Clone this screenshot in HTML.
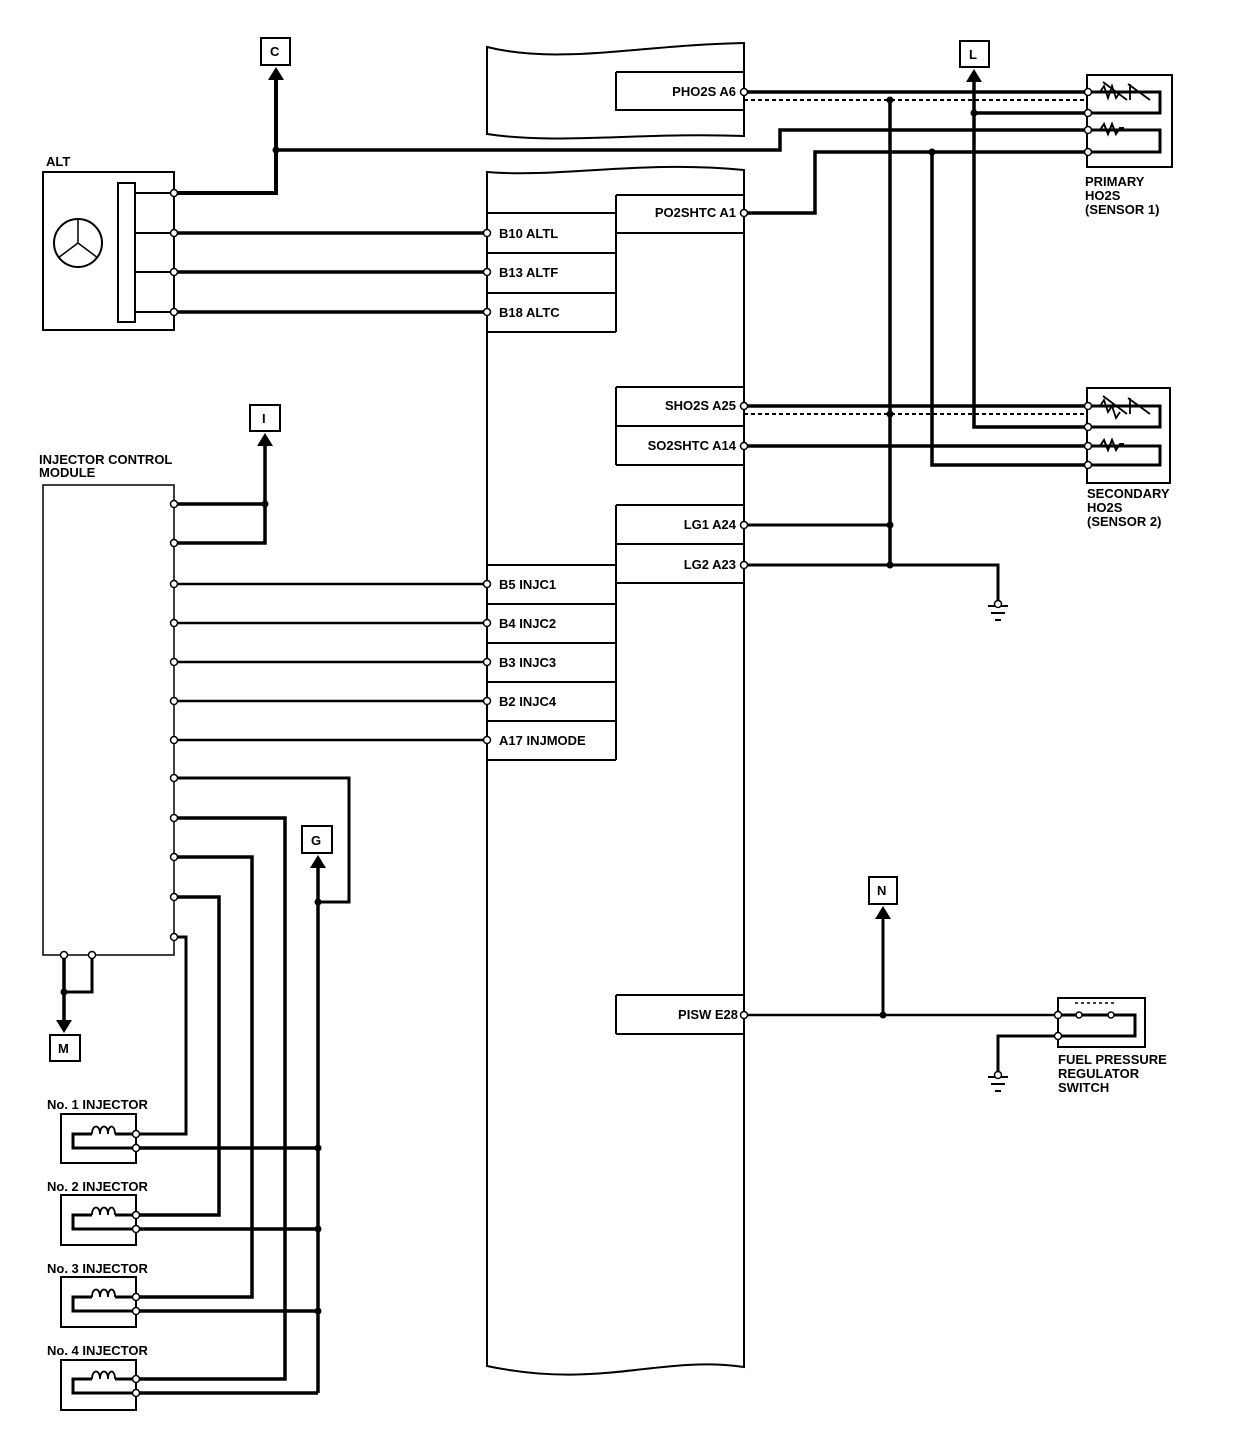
<!DOCTYPE html>
<html><head><meta charset="utf-8"><style>
html,body{margin:0;padding:0;background:#fff}
svg{display:block}
text{font-family:"Liberation Sans",Arial,sans-serif;font-weight:bold;font-size:13px;fill:#000}
</style></head><body>
<svg width="1248" height="1456" viewBox="0 0 1248 1456" xmlns="http://www.w3.org/2000/svg">
<g fill="none" stroke="#000">
<!-- ECM blocks -->
<path d="M487,47 C560,65 640,45 744,43 L744,136 C640,132 560,145 487,134 Z" stroke-width="2"/>
<path d="M487,172 C560,178 640,160 744,170 L744,1367 C660,1355 600,1390 487,1366 Z" stroke-width="2"/>
<!-- ECM inner boxes -->
<path d="M616,72 H744 M616,72 V110 H744" stroke-width="2"/>
<path d="M616,195 H744 M616,233 H744 M487,213 H616 M616,195 V332 M487,253 H616 M487,293 H616 M487,332 H616" stroke-width="2"/>
<path d="M616,387 H744 M616,426 H744 M616,465 H744 M616,387 V465" stroke-width="2"/>
<path d="M616,505 H744 M616,544 H744 M616,583 H744 M616,505 V760 M487,565 H616 M487,604 H616 M487,643 H616 M487,682 H616 M487,721 H616 M487,760 H616" stroke-width="2"/>
<path d="M616,995 H744 M616,1034 H744 M616,995 V1034" stroke-width="2"/>

<!-- ALT -->
<rect x="43" y="172" width="131" height="158" stroke-width="2"/>
<rect x="118" y="183" width="17" height="139" stroke-width="2"/>
<circle cx="78" cy="243" r="24" stroke-width="2"/>
<path d="M78,219 V243 L58,258 M78,243 L98,258" stroke-width="1.5"/>
<path d="M174,172 V330" stroke-width="2"/>
<path d="M135,193 H174 M135,233 H174 M135,272 H174 M135,312 H174" stroke-width="2"/>
<path d="M174,193 H276 V76" stroke-width="4"/>
<path d="M276,150 H780 V130 H1088" stroke-width="3.5"/>
<path d="M174,233 H487 M174,272 H487 M174,312 H487" stroke-width="3.5"/>

<!-- O2 wiring -->
<path d="M744,92 H1088" stroke-width="3.5"/>
<path d="M744,100 H1088" stroke-width="2" stroke-dasharray="4,3"/>
<path d="M744,213 H815 V152 H1088" stroke-width="3.5"/>
<path d="M974,78 V427 H1088 M974,113 H1088" stroke-width="3.5"/>
<path d="M932,152 V465 H1088" stroke-width="3.5"/>
<path d="M890,100 V565" stroke-width="3.5"/>
<path d="M744,406 H1088 M744,446 H1088" stroke-width="3.5"/>
<path d="M744,414 H1088" stroke-width="2" stroke-dasharray="4,3"/>
<path d="M744,525 H890 M744,565 H998 V604" stroke-width="3"/>
<!-- sensor boxes -->
<rect x="1087" y="75" width="85" height="92" stroke-width="2"/>
<rect x="1087" y="388" width="83" height="95" stroke-width="2"/>
<path d="M1088,92 H1160 V113 H1088 M1088,130 H1160 V152 H1088" stroke-width="3"/>
<path d="M1088,406 H1160 V427 H1088 M1088,446 H1160 V465 H1088" stroke-width="3"/>
<path d="M1100,92 l4,-6 l4,12 l4,-12 l4,12 l4,-6 M1103,82 L1127,100 M1130,84 V100 M1128,84 L1150,100" stroke-width="1.8"/>
<path d="M1100,406 l4,-6 l4,12 l4,-6 l4,12 l4,-6 M1103,396 L1127,414 M1130,398 V414 M1128,398 L1150,414" stroke-width="1.8"/>
<path d="M1100,130 l4,-6 l4,10 l4,-10 l4,10 l4,-6 l4,0" stroke-width="2"/>
<path d="M1100,446 l4,-6 l4,10 l4,-10 l4,10 l4,-6 l4,0" stroke-width="2"/>
<!-- grounds -->
<path d="M988,606 H1008 M991,613 H1005 M995,620 H1001" stroke-width="2"/>
<path d="M988,1077 H1008 M991,1084 H1005 M995,1091 H1001" stroke-width="2"/>

<!-- PISW -->
<path d="M744,1015 H1058" stroke-width="2.5"/>
<path d="M883,1015 V912" stroke-width="3"/>
<rect x="1058" y="998" width="87" height="49" stroke-width="2"/>
<path d="M1058,1015 H1135 V1036 H998 V1075" stroke-width="3"/>
<path d="M1075,1003 H1115" stroke-width="1.5" stroke-dasharray="3,3"/>

<!-- ICM -->
<path d="M43,485 H174 V955 H43 Z" stroke-width="1.5"/>
<path d="M174,504 H265 M174,543 H265 V440" stroke-width="3.5"/>
<path d="M174,584 H487 M174,623 H487 M174,662 H487 M174,701 H487 M174,740 H487" stroke-width="2.5"/>
<path d="M174,778 H349 V902 H318" stroke-width="3"/>
<path d="M318,1393 V862" stroke-width="3.5"/>
<path d="M174,818 H285 V1379 H136" stroke-width="3.5"/>
<path d="M174,857 H252 V1297 H136" stroke-width="3.5"/>
<path d="M174,897 H219 V1215 H136" stroke-width="3.5"/>
<path d="M174,937 H186 V1134 H136" stroke-width="3"/>
<path d="M136,1148 H318 M136,1229 H318 M136,1311 H318 M136,1393 H318" stroke-width="3.5"/>
<path d="M64,955 V1022" stroke-width="3.5"/>
<path d="M92,955 V992 H64" stroke-width="3"/>
<!-- injectors -->
<g stroke-width="2">
<rect x="61" y="1114" width="75" height="49"/><rect x="61" y="1195" width="75" height="50"/>
<rect x="61" y="1277" width="75" height="50"/><rect x="61" y="1360" width="75" height="50"/>
</g>
<g stroke-width="3">
<path d="M136,1134 H115 M92,1134 H73 V1148 H136"/>
<path d="M136,1215 H115 M92,1215 H73 V1229 H136"/>
<path d="M136,1297 H115 M92,1297 H73 V1311 H136"/>
<path d="M136,1379 H115 M92,1379 H73 V1393 H136"/>
</g>
<g stroke-width="1.8">
<path d="M92,1134 c0,-10 8,-10 8,0 c0,-10 8,-10 8,0 c0,-10 7,-10 7,0"/>
<path d="M92,1215 c0,-10 8,-10 8,0 c0,-10 8,-10 8,0 c0,-10 7,-10 7,0"/>
<path d="M92,1297 c0,-10 8,-10 8,0 c0,-10 8,-10 8,0 c0,-10 7,-10 7,0"/>
<path d="M92,1379 c0,-10 8,-10 8,0 c0,-10 8,-10 8,0 c0,-10 7,-10 7,0"/>
</g>
<!-- connector boxes -->
<g stroke-width="2">
<rect x="261" y="38" width="29" height="27"/>
<rect x="960" y="41" width="29" height="26"/>
<rect x="250" y="405" width="30" height="26"/>
<rect x="302" y="826" width="30" height="27"/>
<rect x="869" y="877" width="28" height="27"/>
<rect x="50" y="1035" width="30" height="26"/>
</g>
</g>
<!-- arrowheads -->
<g fill="#000">
<polygon points="276,67 268,80 284,80"/>
<polygon points="974,69 966,82 982,82"/>
<polygon points="265,433 257,446 273,446"/>
<polygon points="318,855 310,868 326,868"/>
<polygon points="883,906 875,919 891,919"/>
<polygon points="64,1033 56,1020 72,1020"/>
</g>
<!-- dots -->
<g fill="#000">
<circle cx="276" cy="150" r="3.5"/><circle cx="890" cy="100" r="3.5"/><circle cx="974" cy="113" r="3.5"/>
<circle cx="932" cy="152" r="3.5"/><circle cx="890" cy="414" r="3.5"/><circle cx="890" cy="525" r="3.5"/>
<circle cx="890" cy="565" r="3.5"/><circle cx="883" cy="1015" r="3.5"/><circle cx="265" cy="504" r="3.5"/>
<circle cx="318" cy="902" r="3.5"/><circle cx="64" cy="992" r="3.5"/>
<circle cx="318" cy="1148" r="3.5"/><circle cx="318" cy="1229" r="3.5"/><circle cx="318" cy="1311" r="3.5"/>
</g>
<!-- open terminals -->
<g fill="#fff" stroke="#000" stroke-width="1.5">
<circle cx="174" cy="193" r="3.5"/><circle cx="174" cy="233" r="3.5"/><circle cx="174" cy="272" r="3.5"/><circle cx="174" cy="312" r="3.5"/>
<circle cx="487" cy="233" r="3.5"/><circle cx="487" cy="272" r="3.5"/><circle cx="487" cy="312" r="3.5"/>
<circle cx="744" cy="92" r="3.5"/><circle cx="744" cy="213" r="3.5"/><circle cx="744" cy="406" r="3.5"/><circle cx="744" cy="446" r="3.5"/>
<circle cx="744" cy="525" r="3.5"/><circle cx="744" cy="565" r="3.5"/><circle cx="744" cy="1015" r="3.5"/>
<circle cx="1088" cy="92" r="3.5"/><circle cx="1088" cy="113" r="3.5"/><circle cx="1088" cy="130" r="3.5"/><circle cx="1088" cy="152" r="3.5"/>
<circle cx="1088" cy="406" r="3.5"/><circle cx="1088" cy="427" r="3.5"/><circle cx="1088" cy="446" r="3.5"/><circle cx="1088" cy="465" r="3.5"/>
<circle cx="1058" cy="1015" r="3.5"/><circle cx="1058" cy="1036" r="3.5"/>
<circle cx="1079" cy="1015" r="3"/><circle cx="1111" cy="1015" r="3"/>
<circle cx="998" cy="604" r="3.5"/><circle cx="998" cy="1075" r="3.5"/>
<circle cx="487" cy="584" r="3.5"/><circle cx="487" cy="623" r="3.5"/><circle cx="487" cy="662" r="3.5"/><circle cx="487" cy="701" r="3.5"/><circle cx="487" cy="740" r="3.5"/>
<circle cx="174" cy="504" r="3.5"/><circle cx="174" cy="543" r="3.5"/><circle cx="174" cy="584" r="3.5"/><circle cx="174" cy="623" r="3.5"/>
<circle cx="174" cy="662" r="3.5"/><circle cx="174" cy="701" r="3.5"/><circle cx="174" cy="740" r="3.5"/><circle cx="174" cy="778" r="3.5"/>
<circle cx="174" cy="818" r="3.5"/><circle cx="174" cy="857" r="3.5"/><circle cx="174" cy="897" r="3.5"/><circle cx="174" cy="937" r="3.5"/>
<circle cx="64" cy="955" r="3.5"/><circle cx="92" cy="955" r="3.5"/>
<circle cx="136" cy="1134" r="3.5"/><circle cx="136" cy="1148" r="3.5"/><circle cx="136" cy="1215" r="3.5"/><circle cx="136" cy="1229" r="3.5"/>
<circle cx="136" cy="1297" r="3.5"/><circle cx="136" cy="1311" r="3.5"/><circle cx="136" cy="1379" r="3.5"/><circle cx="136" cy="1393" r="3.5"/>
</g>
<!-- text -->
<g>
<text x="270" y="56">C</text><text x="969" y="59">L</text><text x="262" y="423">I</text>
<text x="311" y="845">G</text><text x="877" y="895">N</text><text x="58" y="1053">M</text>
<text x="46" y="166">ALT</text>
<text x="39" y="464">INJECTOR CONTROL</text><text x="39" y="477">MODULE</text>
<text x="736" y="96" text-anchor="end">PHO2S A6</text>
<text x="736" y="217" text-anchor="end">PO2SHTC A1</text>
<text x="736" y="410" text-anchor="end">SHO2S A25</text>
<text x="736" y="450" text-anchor="end">SO2SHTC A14</text>
<text x="736" y="529" text-anchor="end">LG1 A24</text>
<text x="736" y="569" text-anchor="end">LG2 A23</text>
<text x="738" y="1019" text-anchor="end">PISW E28</text>
<text x="499" y="238">B10 ALTL</text><text x="499" y="277">B13 ALTF</text><text x="499" y="317">B18 ALTC</text>
<text x="499" y="589">B5 INJC1</text><text x="499" y="628">B4 INJC2</text><text x="499" y="667">B3 INJC3</text>
<text x="499" y="706">B2 INJC4</text><text x="499" y="745">A17 INJMODE</text>
<text x="1085" y="186">PRIMARY</text><text x="1085" y="200">HO2S</text><text x="1085" y="214">(SENSOR 1)</text>
<text x="1087" y="498">SECONDARY</text><text x="1087" y="512">HO2S</text><text x="1087" y="526">(SENSOR 2)</text>
<text x="1058" y="1064">FUEL PRESSURE</text><text x="1058" y="1078">REGULATOR</text><text x="1058" y="1092">SWITCH</text>
<text x="47" y="1109">No. 1 INJECTOR</text><text x="47" y="1191">No. 2 INJECTOR</text>
<text x="47" y="1273">No. 3 INJECTOR</text><text x="47" y="1355">No. 4 INJECTOR</text>
</g>
</svg>
</body></html>
